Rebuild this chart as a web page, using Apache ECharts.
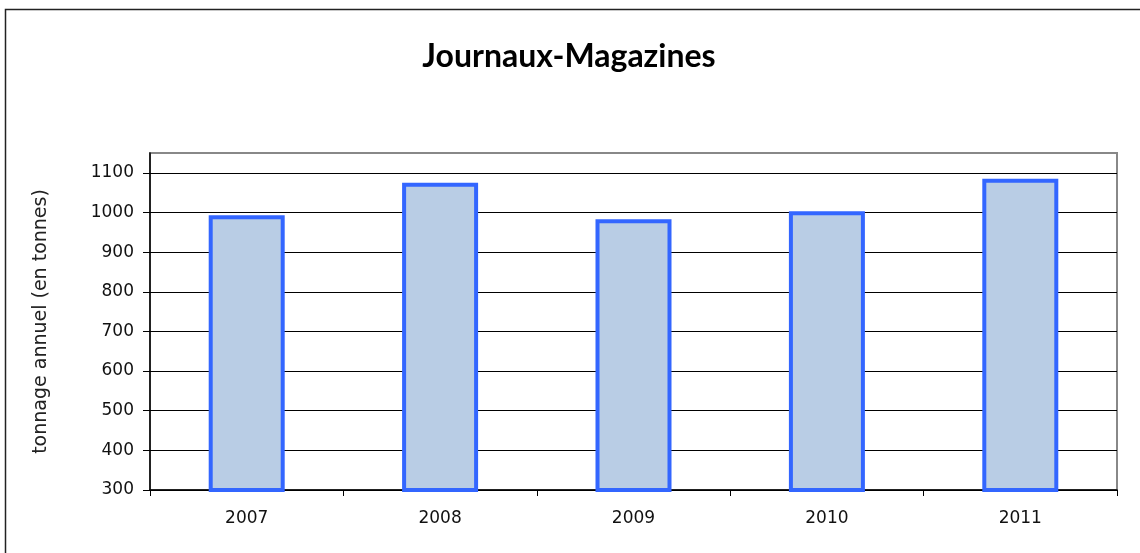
<!DOCTYPE html>
<html>
<head>
<meta charset="utf-8">
<script src="https://cdn.jsdelivr.net/npm/echarts@6/dist/echarts.min.js"></script>
<style>
html, body { margin: 0; padding: 0; background: #fff; }
#chart { width: 1140px; height: 553px; }
</style>
</head>
<body>
<div id="chart"></div>
<script>
// données
const years = ['2007', '2008', '2009', '2010', '2011'];
const tonnage = [993, 1075, 983, 1003, 1085];

const chart = echarts.init(document.getElementById('chart'));

// lignes de grille noires, la dernière (haut du cadre) en gris
const gridColors = ['#000', '#000', '#000', '#000', '#000', '#000', '#000', '#000', '#000', '#888'];

const option = {
    animation: false,
    title: {
        text: 'Journaux-Magazines',
        left: 564,
        textAlign: 'center',
        top: 36,
        textStyle: {
            fontFamily: 'Lato',
            fontWeight: 'bold',
            fontSize: 32,
            color: '#000'
        }
    },
    grid: {
        left: 150,
        right: 23,
        top: 153,
        bottom: 63,
        show: true,
        borderColor: '#888',
        borderWidth: 2
    },
    xAxis: {
        type: 'category',
        data: years,
        axisLine: { lineStyle: { color: '#000', width: 1.5 } },
        axisTick: { show: true, length: 6, lineStyle: { color: '#000' } },
        axisLabel: { color: '#111', fontSize: 17, fontFamily: 'DejaVu Sans', margin: 20 }
    },
    yAxis: {
        type: 'value',
        min: 300,
        max: 1150,
        interval: 100,
        name: 'tonnage annuel (en tonnes)',
        nameLocation: 'middle',
        nameRotate: 90,
        nameGap: 99,
        nameTextStyle: { color: '#222', fontSize: 19, fontFamily: 'DejaVu Sans' },
        axisLine: { show: true, lineStyle: { color: '#000', width: 1.5 } },
        axisTick: { show: true, length: 7, lineStyle: { color: '#000' } },
        axisLabel: {
            color: '#111', fontSize: 17, fontFamily: 'DejaVu Sans', margin: 16,
            showMaxLabel: false,
            formatter: v => String(v)
        },
        splitLine: { show: true, lineStyle: { color: gridColors, width: 1.2 } }
    },
    series: [
        {
            type: 'bar',
            data: tonnage,
            barWidth: 76,
            itemStyle: {
                color: '#B9CDE5',
                borderColor: '#3366FF',
                borderWidth: 4
            }
        }
    ],
    graphic: [
        {
            type: 'rect',
            shape: { x: 5.5, y: 9.5, width: 1200, height: 600 },
            style: { fill: null, stroke: '#222', lineWidth: 1.5 },
            silent: true
        }
    ]
};

chart.setOption(option);
</script>
</body>
</html>
